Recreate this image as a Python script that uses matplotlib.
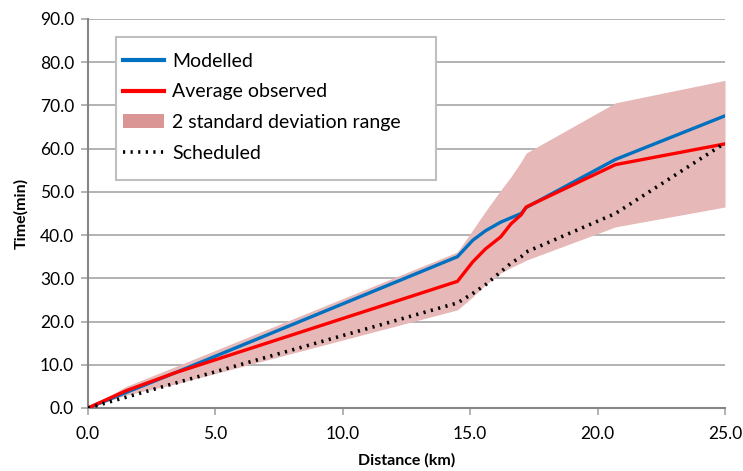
import matplotlib
matplotlib.use("Agg")
import matplotlib.pyplot as plt
from matplotlib.patches import Patch, Rectangle
from matplotlib.lines import Line2D

# distance along route (km)
distance = [0, 1.5, 3.4, 14.5, 15.1, 15.6, 16.2, 16.6, 17.0, 17.2, 20.7, 25.0]
modelled = [0, 3.6, 8.1, 35.0, 38.8, 41.0, 43.0, 44.0, 45.0, 46.4, 57.5, 67.6]
observed = [0, 4.0, 8.1, 29.3, 33.8, 36.8, 39.6, 42.6, 44.7, 46.5, 56.3, 61.1]
sd_upper = [0, 5.0, 9.5, 36.1, 41.2, 45.5, 50.4, 53.5, 57.0, 59.0, 70.6, 75.8]
sd_lower = [0, 3.0, 5.5, 22.7, 25.7, 28.5, 31.2, 32.5, 33.6, 34.2, 41.9, 46.5]
scheduled = [0, 2.5, 5.7, 24.3, 26.5, 28.5, 31.5, 33.5, 35.0, 36.1, 45.0, 61.3]

plt.rcParams['font.family'] = ['Lato', 'DejaVu Sans']

fig = plt.figure(figsize=(7.43, 4.71), dpi=100)
ax = fig.add_axes([0.1184, 0.1338, 0.8574, 0.8259])

grid_col = '#A6A6A6'
dots = (0, (0.6, 1.5))
ax.fill_between(distance, sd_lower, sd_upper, color='#E6B9B8', lw=0, zorder=2)
ax.plot(distance, modelled, color='#0070C0', lw=2.4, zorder=4)
ax.plot(distance, observed, color='#FF0000', lw=2.4, zorder=5)
ax.plot(distance, scheduled, color='black', lw=2.6, linestyle=dots, zorder=6)

ax.set_xlim(0, 25)
ax.set_ylim(0, 90)
ax.set_xticks([0, 5, 10, 15, 20, 25])
ax.set_yticks(range(0, 91, 10))
ax.set_xticklabels([f'{v:.1f}' for v in ax.get_xticks()])
ax.set_yticklabels([f'{v:.1f}' for v in ax.get_yticks()])
ax.yaxis.grid(True, color=grid_col, lw=1.2, zorder=0)
ax.set_axisbelow(True)
for s in ['top', 'right']:
    ax.spines[s].set_visible(False)
for s in ['left', 'bottom']:
    ax.spines[s].set_color('#868686')
    ax.spines[s].set_linewidth(1.5)
ax.tick_params(axis='both', colors=grid_col, labelcolor='black', labelsize=12.5,
               length=5, width=1.2)
ax.tick_params(axis='x', pad=8)
ax.tick_params(axis='y', pad=5)

ax.set_xlabel('Distance (km)', fontsize=11.5, fontweight='bold', labelpad=8)
ax.set_ylabel('Time(min)', fontsize=11.5, fontweight='bold', labelpad=8)

# legend box drawn separately (Excel style, wide frame)
ax.add_patch(Rectangle((0.044, 0.586), 0.502, 0.368, transform=ax.transAxes,
                       facecolor='white', edgecolor='#BFBFBF', lw=1.5, zorder=7))
handles = [
    Line2D([0], [0], color='#0070C0', lw=3),
    Line2D([0], [0], color='#FF0000', lw=3),
    Patch(facecolor='#D99694', edgecolor='none'),
    Line2D([0], [0], color='black', lw=2.6, linestyle=dots),
]
labels = ['Modelled', 'Average observed', '2 standard deviation range', 'Scheduled']
leg = ax.legend(handles, labels, loc='upper left', bbox_to_anchor=(0.027, 0.958),
                fontsize=14, frameon=False, handlelength=2.15,
                handletextpad=0.41, borderpad=0.4, labelspacing=0.7)
leg.set_zorder(8)

fig.savefig('out.png', dpi=100)
